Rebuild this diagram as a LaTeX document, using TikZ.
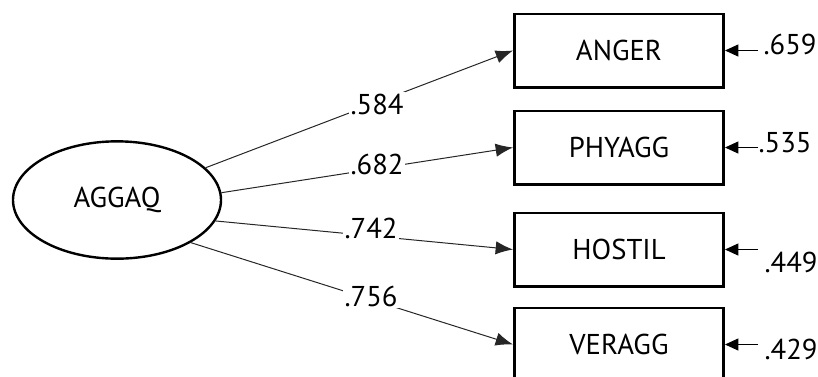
\documentclass[tikz,border=0pt]{standalone}
\usepackage{fontspec}
\setmainfont{PT Sans}
\usetikzlibrary{arrows.meta,shapes.geometric}
\begin{document}
\begin{tikzpicture}[x=0.75pt,y=-0.75pt,
  every node/.style={font=\fontsize{21.5}{24}\selectfont, text=black},
  latent/.style={draw, ellipse, line width=1.8pt, minimum width=156pt, minimum height=88pt, inner sep=0pt},
  obs/.style={draw, rectangle, line width=2pt, minimum width=157pt, minimum height=55pt, inner sep=0pt},
  path/.style={draw=black!85, line width=0.75pt, -{Latex[length=13pt,width=10pt]}},
  err/.style={draw=black, line width=0.8pt, -{Triangle[length=10pt,width=9pt]}},
  lbl/.style={fill=white, inner sep=1pt}
]
\useasboundingbox (0,0) rectangle (818,376);
\node[latent] (e) at (117,200) {AGGAQ};
\node[obs] (b1) at (619,50.5) {ANGER};
\node[obs] (b2) at (619,147.5) {PHYAGG};
\node[obs] (b3) at (619,249.5) {HOSTIL};
\node[obs] (b4) at (619,344.5) {VERAGG};

\draw[path] (e.20) -- (b1.west);
\draw[path] (e.4) -- (b2.west);
\draw[path] (e.-12) -- (b3.west);
\draw[path] (e.-30.5) -- (b4.west);

\node[lbl] (l1) at (377,104) {.584};
\node[lbl] (l2) at (377,164) {.682};
\node[lbl] (l3) at (371,228) {.742};
\node[lbl] (l4) at (371,296) {.756};

\coordinate (t1) at (758,50.5);
\coordinate (t2) at (758,147.5);
\coordinate (t3) at (758,249.5);
\coordinate (t4) at (758,344.5);
\draw[err] (t1) -- (b1.east);
\draw[err] (t2) -- (b2.east);
\draw[err] (t3) -- (b3.east);
\draw[err] (t4) -- (b4.east);

\node (r1) at (790,44) {.659};
\node (r2) at (785,143) {.535};
\node (r3) at (791,262) {.449};
\node (r4) at (791,349) {.429};
\end{tikzpicture}
\end{document}
